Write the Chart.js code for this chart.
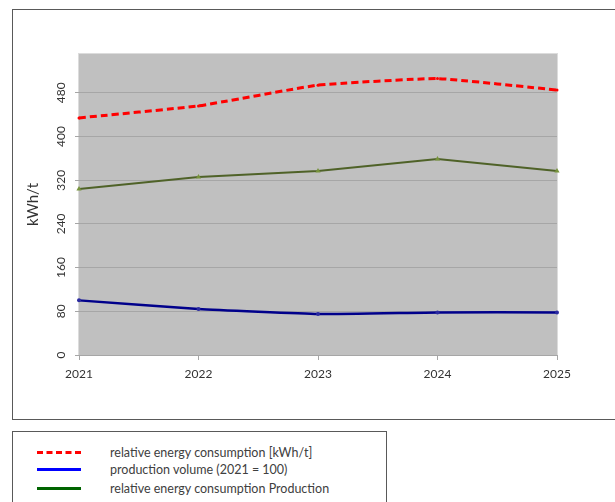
<!DOCTYPE html>
<html lang="en">
<head>
  <meta charset="UTF-8">
  <title>Energy consumption</title>
  <script src="https://cdn.jsdelivr.net/npm/chart.js"></script>
  <style>
    html, body {
      margin: 0;
      overflow: hidden;
    }

    body {
      width: 615px;
      height: 502px;
      background: #ffffff;
      font-family: 'Lato', sans-serif;
      position: relative;
    }

    .frame {
      position: absolute;
      left: 12px;
      top: 9px;
      width: 603px;
      height: 409px;
      border: 1px solid #595959;
      border-right: none;
    }

    .chart-box {
      position: absolute;
      left: 0;
      top: 0;
      width: 615px;
      height: 420px;
    }

    .legend {
      position: absolute;
      left: 12px;
      top: 431px;
      width: 373px;
      height: 90px;
      border: 1px solid #595959;
    }

    .legend-row {
      position: absolute;
      left: 0;
      height: 18px;
      display: flex;
      align-items: center;
      font-size: 12.5px;
      color: #404040;
    }

    .legend-row .swatch {
      width: 44px;
      height: 0;
      margin-left: 24px;
      margin-right: 29px;
    }
  </style>
</head>
<body>

  <div class="frame"></div>
  <div class="chart-box">
    <canvas id="energyChart" width="615" height="420"></canvas>
  </div>
  <div class="legend" id="legend"></div>

  <script>
    const years = ["2021", "2022", "2023", "2024", "2025"];
    const relEnergy = [434, 456, 494, 506, 485];
    const prodVolume = [100, 84, 75, 78, 78];
    const relEnergyProd = [304, 326, 337, 359, 337];
    const yTicks = [0, 80, 160, 240, 320, 400, 480];

    const seriesLabels = [
      'relative energy consumption [kWh/t]',
      'production volume (2021 = 100)',
      'relative energy consumption Production'
    ];
    const legendColors = ['#ff0000', '#0000ff', '#006400'];

    // grey plot area with a thin light border
    const plotArea = {
      id: 'plotArea',
      beforeDraw(chart) {
        const { ctx, chartArea: a } = chart;
        ctx.save();
        ctx.fillStyle = '#c0c0c0';
        ctx.fillRect(a.left, a.top, a.right - a.left, a.bottom - a.top);
        ctx.strokeStyle = '#dcdcdc';
        ctx.lineWidth = 1;
        ctx.strokeRect(a.left - 0.5, a.top - 0.5, a.right - a.left + 1, a.bottom - a.top + 1);
        ctx.restore();
      }
    };

    new Chart(document.getElementById('energyChart'), {
      type: 'line',
      data: {
        labels: years,
        datasets: [{
          label: seriesLabels[0],
          data: relEnergy,
          borderColor: '#ff0000',
          backgroundColor: '#ff0000',
          borderWidth: 3,
          borderDash: [7, 4],
          tension: 0.12,
          pointRadius: 1.5,
          pointBorderWidth: 0
        }, {
          label: seriesLabels[1],
          data: prodVolume,
          borderColor: '#00008b',
          backgroundColor: '#2a2aa0',
          borderWidth: 2.5,
          tension: 0.12,
          pointRadius: 2,
          pointBorderWidth: 0
        }, {
          label: seriesLabels[2],
          data: relEnergyProd,
          borderColor: '#4f6228',
          backgroundColor: '#77933c',
          borderWidth: 2,
          tension: 0,
          pointStyle: 'triangle',
          pointRadius: 3,
          pointBorderWidth: 0
        }]
      },
      options: {
        responsive: false,
        animation: false,
        layout: {
          padding: { left: 20, right: 58, top: 54, bottom: 35 }
        },
        plugins: {
          legend: { display: false },
          tooltip: { enabled: false }
        },
        scales: {
          x: {
            offset: false,
            afterFit: (scale) => { scale.height = 30; },
            border: { display: false },
            grid: {
              drawOnChartArea: false,
              drawTicks: true,
              tickLength: 5,
              color: '#a6a6a6'
            },
            ticks: {
              color: '#333333',
              padding: 7,
              maxRotation: 0,
              font: { family: 'Lato', size: 12 }
            }
          },
          y: {
            min: 0,
            max: 551,
            afterFit: (scale) => { scale.width = 59; },
            afterBuildTicks: (scale) => {
              scale.ticks = yTicks.map(v => ({ value: v }));
            },
            border: { display: false },
            grid: {
              color: '#a6a6a6',
              tickLength: 4
            },
            ticks: {
              color: '#333333',
              padding: 3,
              minRotation: 90,
              maxRotation: 90,
              crossAlign: 'center',
              font: { family: 'Lato', size: 12 }
            },
            title: {
              display: true,
              text: 'kWh/t',
              color: '#333333',
              padding: { top: 4, bottom: 0 },
              font: { family: 'Lato', size: 15 }
            }
          }
        }
      },
      plugins: [plotArea]
    });

    // legend built from the series labels
    const legendEl = document.getElementById('legend');
    const rowTops = [11, 28, 47];
    seriesLabels.forEach((text, i) => {
      const row = document.createElement('div');
      row.className = 'legend-row';
      row.style.top = rowTops[i] + 'px';
      const sw = document.createElement('div');
      sw.className = 'swatch';
      sw.style.borderTop = i === 0 ? '3px dashed ' + legendColors[i] : '3px solid ' + legendColors[i];
      const label = document.createElement('span');
      label.textContent = text;
      row.appendChild(sw);
      row.appendChild(label);
      legendEl.appendChild(row);
    });
  </script>

</body>
</html>
